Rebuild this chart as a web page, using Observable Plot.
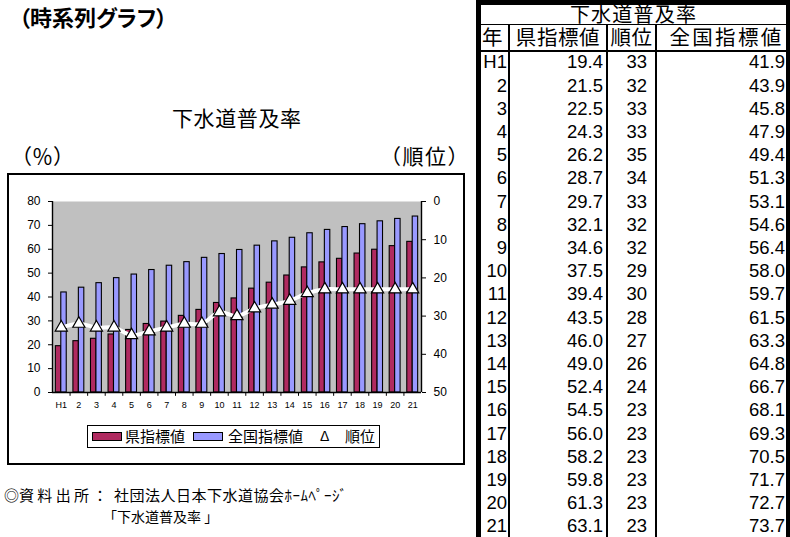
<!DOCTYPE html>
<html><head><meta charset="utf-8">
<script src="https://cdn.jsdelivr.net/npm/d3@7"></script>
<script src="https://cdn.jsdelivr.net/npm/@observablehq/plot@0.6"></script>
<style>
body{margin:0;width:790px;height:537px;overflow:hidden;background:#fff;position:relative;font-family:"Liberation Sans","Noto Sans CJK JP",sans-serif;color:#000}
.abs{position:absolute;white-space:nowrap;line-height:1}
.jp{font-family:"Noto Sans CJK JP",sans-serif}
.palt{font-feature-settings:"palt"}
.num{font-family:"Liberation Sans",Arial,sans-serif}
</style></head><body>
<div id="root"></div>
<script>
// ---- data ----
const years = ["H1","2","3","4","5","6","7","8","9","10","11","12","13","14","15","16","17","18","19","20","21"];
const prefValues = [19.4,21.5,22.5,24.3,26.2,28.7,29.7,32.1,34.6,37.5,39.4,43.5,46.0,49.0,52.4,54.5,56.0,58.2,59.8,61.3,63.1];
const ranks = [33,32,33,33,35,34,33,32,32,29,30,28,27,26,24,23,23,23,23,23,23];
const nationalValues = [41.9,43.9,45.8,47.9,49.4,51.3,53.1,54.6,56.4,58.0,59.7,61.5,63.3,64.8,66.7,68.1,69.3,70.5,71.7,72.7,73.7];
const leftTicks = [0,10,20,30,40,50,60,70,80];
const rankTicks = [0,10,20,30,40,50];
const seriesNames = ["県指標値","全国指標値","順位"];
const tableTitle = "下水道普及率";
const tableHeaders = ["年","県指標値","順位","全国指標値"];
const colors = ["#B02A60","#9999FF"];

const root = document.getElementById("root");
function addText(txt, left, cy, fs, cls, extra){
  const d = document.createElement("div");
  d.className = "abs " + (cls||"");
  d.textContent = txt;
  d.style.left = left + "px";
  d.style.top = (cy - 0.55*fs) + "px";
  d.style.fontSize = fs + "px";
  if (extra) Object.assign(d.style, extra);
  root.appendChild(d);
  return d;
}
function addBox(l,t,w,h,style){
  const d = document.createElement("div");
  d.style.position="absolute"; d.style.left=l+"px"; d.style.top=t+"px";
  d.style.width=w+"px"; d.style.height=h+"px"; d.style.boxSizing="border-box";
  Object.assign(d.style, style||{});
  root.appendChild(d); return d;
}

// ---- headings ----
addText("（時系列グラフ）", 19, 17, 22, "jp palt", {fontWeight:"bold"});
addText("下水道普及率", 172, 119, 21, "jp", {letterSpacing:"0.6px"});
addText("（％）", 11, 157, 21, "jp");
addText("（順位）", 380, 157, 21, "jp", {letterSpacing:"1.5px"});

// ---- chart box ----
addBox(7,173,458,292,{border:"2px solid #000"});

const W = 458, H = 292, mL = 45, mR = 44, mT = 28, mB = 73;
const n = years.length;
const data = years.map((y,i)=>({idx:i+1, year:y, pref:prefValues[i], nat:nationalValues[i], rank:ranks[i], rankY: 80 - ranks[i]*80/50}));
const boundaries = d3.range(1.5, n + 0.5, 1);
const chart = Plot.plot({
  width: W, height: H, marginLeft: mL, marginRight: mR, marginTop: mT, marginBottom: mB,
  x: {domain:[0.5, n + 0.5], axis:null},
  y: {domain:[0,80], axis:null},
  style: {fontFamily:"'Liberation Sans','Noto Sans CJK JP',sans-serif", fontSize:"12px", background:"transparent", overflow:"visible", color:"#000"},
  marks: [
    Plot.frame({fill:"#c0c0c0", stroke:"none"}),
    Plot.rectY(data, {x1:d=>d.idx-0.31, x2:d=>d.idx, y:"pref", fill:colors[0], stroke:"#000", strokeWidth:1.1}),
    Plot.rectY(data, {x1:d=>d.idx, x2:d=>d.idx+0.31, y:"nat", fill:colors[1], stroke:"#000", strokeWidth:1.1}),
    Plot.line(data, {x:"idx", y:"rankY", stroke:"#fff", strokeWidth:4, curve:"catmull-rom"}),
    Plot.dot(data, {x:"idx", y:"rankY", symbol:"triangle", r:4.5, fill:"#fff", stroke:"#000", strokeWidth:1.2}),
    Plot.ruleY([0], {stroke:"#000", strokeWidth:1.4}),
    Plot.ruleX([0.5, n + 0.5], {y1:0, y2:80, stroke:"#000", strokeWidth:1.4}),
    Plot.ruleX(boundaries, {y1:0, y2:-1.6, stroke:"#000"}),
    Plot.axisY(leftTicks, {anchor:"left", tickSize:4, tickPadding:8, label:null, fontSize:12}),
    Plot.axisY(rankTicks.map(r=>80-r*1.6), {anchor:"right", tickSize:4, tickPadding:8, label:null, fontSize:12, tickFormat:v=>String(Math.round((80-v)/1.6))}),
    Plot.axisX(d3.range(1, n + 1), {tickSize:0, tickPadding:9, fontSize:9, label:null, tickFormat:i=>years[i-1]})
  ]
});
chart.style.position = "absolute"; chart.style.left = "7px"; chart.style.top = "173px";
root.appendChild(chart);

// ---- legend ----
addBox(87,425,293,23,{border:"1px solid #000"});
addBox(92,432,30,9,{background:colors[0], border:"1px solid #000"});
addText(seriesNames[0], 125, 436.5, 15, "jp");
addBox(193,432,30,9,{background:colors[1], border:"1px solid #000"});
addText(seriesNames[1], 228, 436.5, 15, "jp");
addText("Δ", 320, 436.5, 14, "");
addText(seriesNames[2], 345, 436.5, 15, "jp");

// ---- source ----
addText("◎資 料 出 所 ：", 4, 495, 15, "jp");
addText("社団法人日本下水道協会ﾎｰﾑﾍﾟｰｼﾞ", 114, 495, 15, "jp", {letterSpacing:"0.5px"});
addText("「下水道普及率 」", 103, 517, 14, "jp");

// ---- table ----
const TL = 476, TR = 790;
const rowTop0 = 51, rowH = 23.2;
addBox(TL,0,TR-TL,5,{background:"#000"});
addBox(TL,0,5,537,{background:"#000"});
addBox(786,0,4,537,{background:"#000"});
addBox(481,23.5,305,1.5,{background:"#000"});
addBox(481,49.5,305,2,{background:"#000"});
addBox(508,24,2,513,{background:"#000"});
addBox(606,24,2,513,{background:"#000"});
addBox(655,24,2,513,{background:"#000"});
function cellText(txt, x0, x1, cy, fs, align, pad, cls, extra){
  const d = document.createElement("div");
  d.className = "abs " + (cls||"");
  d.textContent = txt;
  d.style.left = x0 + "px"; d.style.width = (x1-x0) + "px";
  d.style.top = (cy - 0.55*fs) + "px"; d.style.fontSize = fs + "px";
  d.style.textAlign = align; d.style.boxSizing = "border-box";
  if (align === "right") d.style.paddingRight = pad + "px";
  if (align === "left") d.style.paddingLeft = pad + "px";
  if (extra) Object.assign(d.style, extra);
  root.appendChild(d);
}
cellText(tableTitle, 481, 786, 14.5, 20, "center", 0, "jp", {letterSpacing:"1.2px"});
cellText(tableHeaders[0], 481, 508, 37.5, 20.5, "left", 1, "jp");
cellText(tableHeaders[1], 510, 606, 37.5, 20.5, "center", 0, "jp", {letterSpacing:"0.6px"});
cellText(tableHeaders[2], 608, 655, 37.5, 20.5, "center", 0, "jp", {letterSpacing:"0.5px"});
cellText(tableHeaders[3], 657, 786, 37.5, 20.5, "center", 0, "jp", {letterSpacing:"2.3px", paddingLeft:"10px"});
years.forEach((y,i)=>{
  const cy = rowTop0 + i*rowH + 12.6;
  cellText(y, 479, 508, cy, 18.5, "right", 1, "num");
  cellText(prefValues[i].toFixed(1), 510, 606, cy, 18.5, "right", 3, "num");
  cellText(String(ranks[i]), 608, 655, cy, 18.5, "right", 8, "num");
  cellText(nationalValues[i].toFixed(1), 657, 786, cy, 18.5, "right", 1, "num");
});
</script>
</body></html>
